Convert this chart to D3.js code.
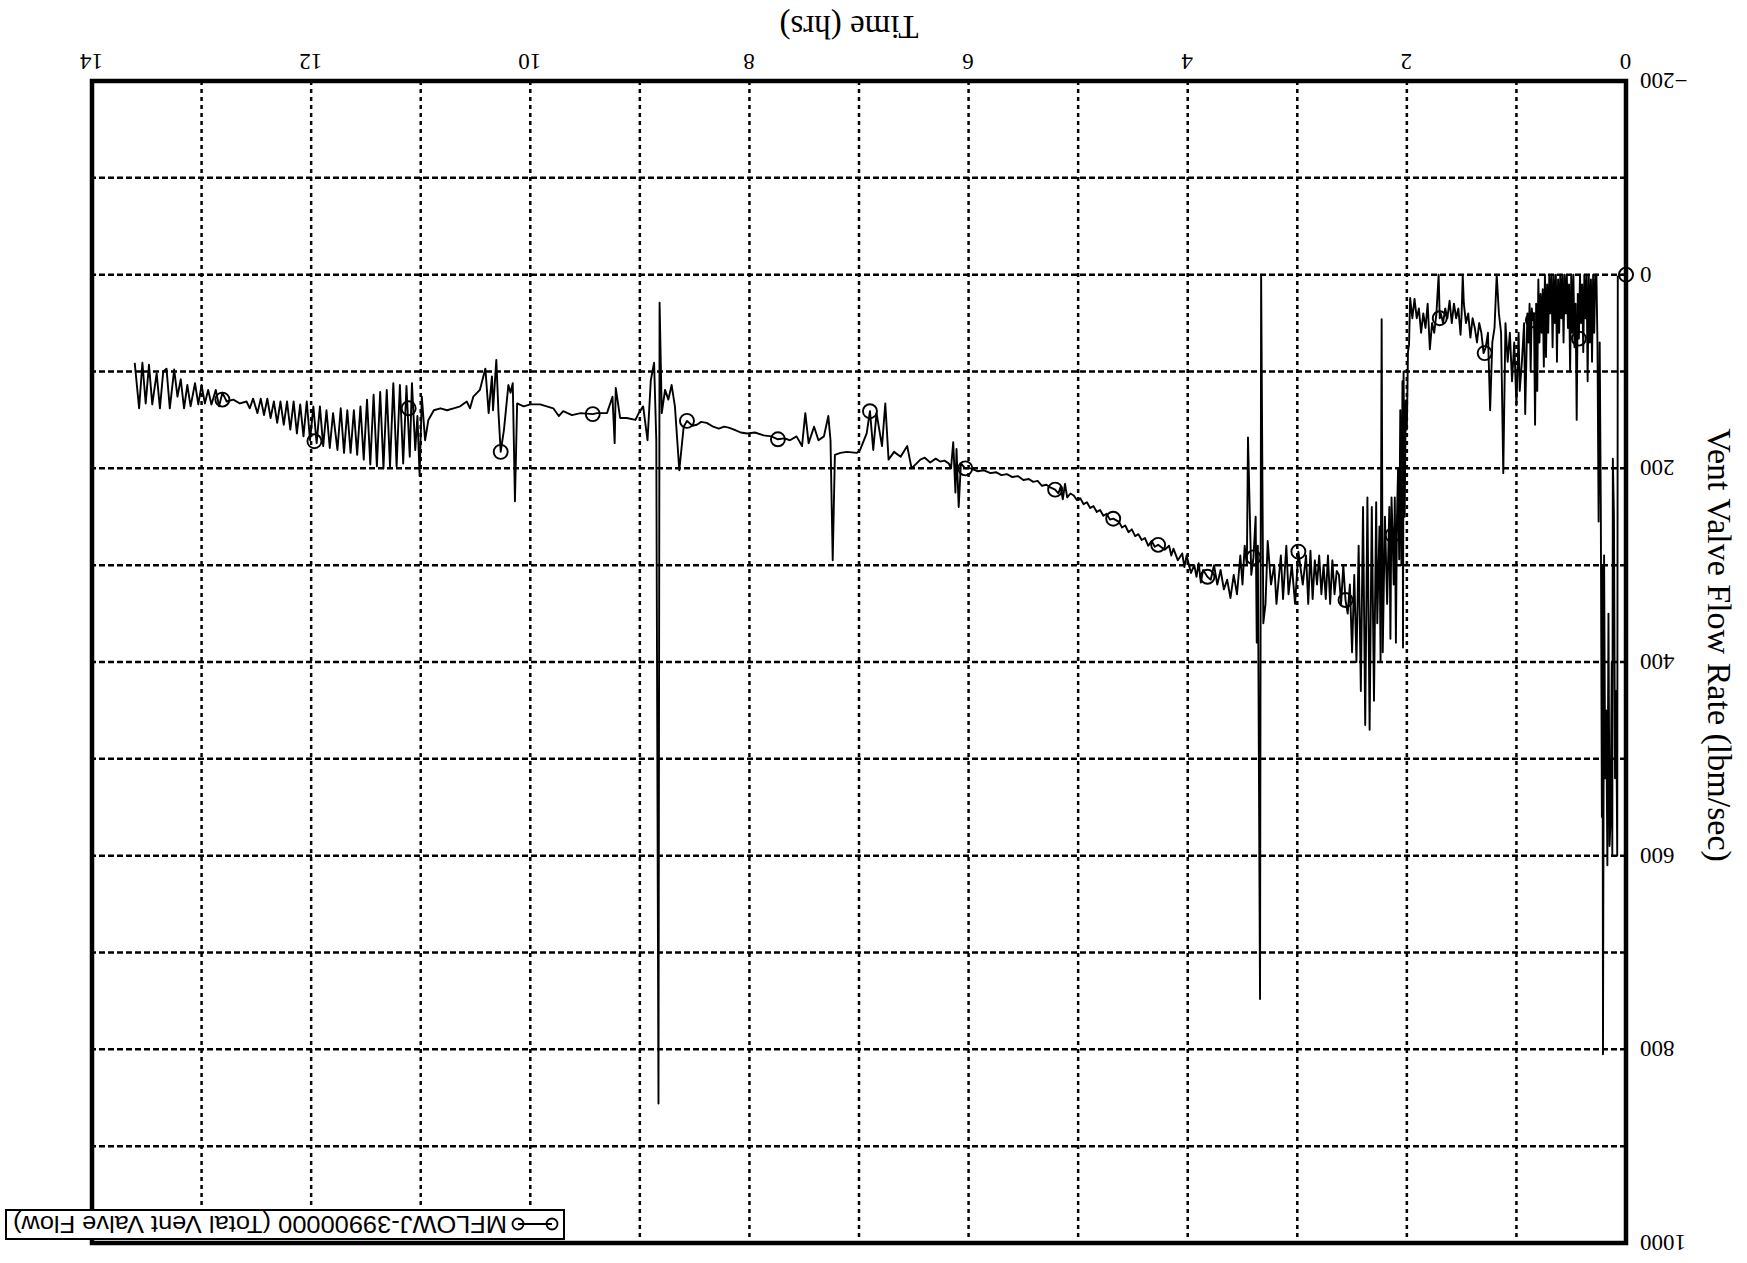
<!DOCTYPE html>
<html><head><meta charset="utf-8">
<script src="https://cdn.jsdelivr.net/npm/d3@7"></script>
<style>
html,body{margin:0;padding:0;background:#fff;}
svg{display:block;}
</style></head><body>
<svg id="chart" width="1747" height="1263"></svg>
<script>
// ---- data (hours, lbm/sec) ----
const timeHrs = [
 0.00,0.04,0.075,0.08,0.09,0.10,0.11,0.12,0.125,0.13,
 0.14,0.15,0.16,0.17,0.18,0.19,0.20,0.21,0.215,0.22,
 0.23,0.24,0.25,0.26,0.27,
 0.28,0.29,0.30,0.31,0.32,0.33,0.34,0.35,0.36,0.37,
 0.38,0.39,0.40,0.41,0.42,0.43,0.44,0.45,0.46,0.47,
 0.48,0.49,0.50,0.51,0.52,0.53,0.54,0.55,0.56,0.57,
 0.58,0.59,0.60,0.61,0.62,0.63,0.64,0.65,0.66,0.67,
 0.68,0.69,0.70,0.71,0.72,0.73,0.74,0.75,0.76,0.77,
 0.78,0.79,0.80,0.81,0.82,0.83,0.84,0.85,0.86,0.87,
 0.88,0.89,0.90,
 0.92,0.93,0.95,0.97,0.98,1.00,1.02,1.04,1.06,1.08,
 1.10,1.12,1.14,1.16,1.18,1.20,1.22,1.24,1.26,1.28,
 1.30,1.32,1.34,1.36,1.38,1.40,1.42,1.44,1.46,1.48,
 1.49,1.50,1.51,1.53,1.55,1.57,1.59,1.61,1.63,1.65,
 1.67,1.69,1.70,1.71,1.73,1.75,1.77,1.79,1.81,1.83,
 1.85,1.87,1.89,1.91,1.93,1.95,1.97,
 1.98,1.99,2.00,2.01,2.02,2.03,2.035,2.04,2.05,2.06,
 2.07,2.08,2.09,2.10,2.11,2.12,2.13,2.14,2.15,2.16,
 2.18,2.20,2.22,2.23,2.24,2.25,2.27,2.28,2.30,2.32,
 2.34,2.36,2.38,2.40,2.42,2.44,2.46,2.48,2.50,2.52,
 2.54,2.56,2.58,2.60,2.62,2.64,2.66,2.68,2.70,2.72,
 2.74,2.76,2.78,2.80,2.82,2.84,2.86,2.88,2.90,2.92,
 2.95,2.99,3.02,3.05,3.08,3.10,3.13,3.15,3.19,3.21,
 3.24,3.27,3.29,3.31,3.33,3.34,3.36,3.37,3.38,3.40,
 3.42,3.45,3.46,3.48,3.50,3.52,3.55,3.58,3.61,3.64,
 3.67,3.70,3.73,3.76,3.79,3.82,3.86,3.88,3.90,3.92,
 3.94,3.97,4.01,4.03,4.05,4.09,4.13,4.15,4.17,4.21,
 4.27,4.30,4.33,4.36,4.39,4.42,4.45,4.48,4.51,4.54,
 4.57,4.60,4.63,4.68,4.71,4.74,4.77,4.80,4.83,4.86,
 4.89,4.92,4.95,4.98,5.01,5.04,5.07,5.10,5.12,5.14,
 5.16,5.18,5.21,5.25,5.29,5.33,5.37,5.41,5.45,5.50,
 5.55,5.60,5.65,5.70,5.75,5.80,5.86,5.92,5.98,6.03,
 6.07,6.09,6.11,6.12,6.14,6.16,6.18,6.22,6.26,6.30,
 6.35,6.40,
 6.44,6.52,6.56,6.62,6.68,6.73,6.76,6.79,6.84,6.87,
 6.90,6.93,6.99,7.02,7.11,7.17,7.22,7.24,7.26,7.28,
 7.32,7.37,7.41,7.46,7.49,7.52,7.57,7.63,7.68,7.74,
 7.80,7.87,7.95,8.02,8.08,8.14,8.19,8.23,8.28,8.33,
 8.39,8.44,8.48,8.52,8.57,8.60,8.64,8.68,8.71,8.74,
 8.77,8.80,8.82,8.83,8.85,8.87,8.90,8.93,8.97,9.01,
 9.04,9.12,9.18,9.22,9.23,9.25,9.30,9.39,9.43,9.54,
 9.62,9.70,9.74,9.79,9.85,9.91,10.00,10.06,10.12,10.14,
 10.16,
 10.18,10.20,10.24,10.27,10.29,10.31,10.34,10.35,10.38,10.41,
 10.46,10.52,10.55,10.58,10.64,10.70,10.76,10.82,10.88,10.93,
 10.96,10.99,11.01,11.03,11.05,11.08,11.10,11.13,11.16,11.19,
 11.22,11.25,11.28,11.31,11.34,11.37,11.40,11.43,11.46,11.49,
 11.52,11.55,11.58,11.61,11.64,11.67,11.70,11.73,11.76,11.80,
 11.83,11.86,11.89,11.92,11.95,11.98,12.01,12.04,12.07,12.10,
 12.13,12.16,12.19,12.22,12.25,12.28,12.31,12.34,12.37,12.40,
 12.43,12.46,12.49,12.53,12.56,12.59,12.65,12.71,12.77,12.81,
 12.84,12.87,12.91,12.94,12.97,13.00,13.03,13.06,13.10,13.13,
 13.16,13.19,13.22,13.25,13.29,13.32,13.35,13.38,13.41,13.45,
 13.48,13.51,13.54,13.57,13.61
];
const flowRate = [
 0,0,2,600,430,520,250,190,600,400,
 560,590,350,610,450,520,290,805,300,560,
 240,70,255,75,0,
 0,60,0,90,5,70,0,110,0,45,
 0,80,10,50,0,66,20,150,30,75,
 0,60,0,100,10,55,0,40,0,70,
 0,45,0,60,5,90,0,50,0,75,
 0,40,0,60,10,85,0,95,15,60,
 20,70,5,120,30,155,40,47,35,100,
 30,70,40,
 144,50,90,120,60,135,70,110,60,90,
 50,205,60,40,0,55,70,140,60,75,
 81,60,50,70,55,45,65,40,50,30,
 0,40,62,35,45,30,50,27,45,35,
 50,40,45,0,40,60,50,77,30,55,
 40,60,35,45,25,45,24,
 72,80,160,130,250,100,385,110,300,140,
 294,200,250,380,230,320,269,230,376,240,
 340,250,390,46,400,260,360,235,440,240,
 470,230,465,240,430,280,400,310,390,320,
 350,336,300,340,310,306,330,295,340,290,
 335,300,330,290,320,295,335,285,340,290,
 320,286,340,300,330,280,335,290,340,300,
 320,275,340,360,0,748,280,380,250,292,
 310,168,300,280,320,290,330,310,334,315,
 325,305,320,300,315,312,305,318,298,312,
 300,308,290,302,288,295,283,290,280,284,
 279,281,275,280,272,274,268,270,263,266,
 259,261,255,252,253,247,249,243,245,239,
 241,235,237,231,233,228,226,230,216,232,
 219,226,222,220,217,218,213,214,211,212,
 208,209,206,207,204,205,202,203,200,200,
 195,240,180,225,173,200,195,192,193,190,
 194,189,
 191,200,177,188,183,191,133,177,143,181,
 141,164,181,184,183,184,186,295,171,146,
 167,171,157,174,143,177,167,171,169,170,
 167,166,163,164,163,160,158,157,159,157,
 153,152,155,156,151,157,202,136,114,129,
 119,143,29,856,171,91,109,171,136,143,
 150,148,148,117,174,126,143,143,144,143,
 145,141,146,138,136,134,134,136,133,234,
 112,
 122,114,160,183,143,88,140,105,143,97,
 119,126,138,131,136,138,140,138,140,150,
 171,126,208,146,181,112,188,115,195,114,
 198,112,198,119,200,121,198,124,196,129,
 191,136,186,140,184,140,184,138,181,143,
 179,140,177,136,174,136,171,131,167,134,
 164,131,160,131,155,131,153,131,148,128,
 145,128,143,128,138,131,133,129,131,122,
 136,119,134,119,133,114,134,112,136,114,
 138,108,126,98,138,97,100,138,102,134,
 93,133,91,138,91
];
const markerTimes = [0,0.43,0.85,1.29,1.70,2.13,2.56,2.99,3.40,3.82,4.27,4.68,5.21,6.03,6.90,7.74,8.57,9.43,10.27,11.11,11.97,12.81];
const markerFlow  = [0,66,47,81,45,269,336,286,292,312,279,252,222,200,141,170,151,144,183,138,172,129];
const xTicks = [0,2,4,6,8,10,12,14];
const yTicks = [-200,0,200,400,600,800,1000];
const xTitle = "Time (hrs)";
const yTitle = "Vent Valve Flow Rate (lbm/sec)";
const legendLabel = "MFLOWJ-39900000 (Total Vent Valve Flow)";

// ---- drawing ----
const W = 1747, H = 1263;
const svg = d3.select('#chart');
// the reference page is printed upside-down: draw normally, then turn 180°
const g = svg.append('g').attr('transform', `rotate(180 ${W/2} ${H/2})`);

const x = d3.scaleLinear().domain([0, 14]).range([121, 1655]);
const y = d3.scaleLinear().domain([-200, 1000]).range([1182, 20]);
const serif = "'Liberation Serif','Times New Roman',serif";
const sans = "'Liberation Sans',Arial,sans-serif";

// grid
g.append('g').selectAll('line')
  .data(x.ticks(14).filter(d => d > 0 && d < 14)).join('line')
  .attr('x1', d => x(d)).attr('x2', d => x(d))
  .attr('y1', y(-200)).attr('y2', y(1000))
  .attr('stroke', '#000').attr('stroke-width', 2.5).attr('stroke-dasharray', '4,4');
g.append('g').selectAll('line')
  .data(y.ticks(12).filter(d => d > -200 && d < 1000)).join('line')
  .attr('y1', d => y(d)).attr('y2', d => y(d))
  .attr('x1', x(0)).attr('x2', x(14))
  .attr('stroke', '#000').attr('stroke-width', 2.5).attr('stroke-dasharray', '6,3');

// series
const pts = timeHrs.map((t, i) => [t, flowRate[i]]).filter(p => p[1] !== undefined);
g.append('path').datum(pts)
  .attr('d', d3.line().x(d => x(d[0])).y(d => y(d[1])))
  .attr('fill', 'none').attr('stroke', '#000').attr('stroke-width', 1.9)
  .attr('stroke-linejoin', 'round');

g.append('g').selectAll('circle')
  .data(markerTimes.map((t, i) => [t, markerFlow[i]])).join('circle')
  .attr('cx', d => x(d[0])).attr('cy', d => y(d[1])).attr('r', 7)
  .attr('fill', 'none').attr('stroke', '#000').attr('stroke-width', 1.9);

// frame
g.append('rect').attr('x', x(0)).attr('y', y(1000))
  .attr('width', x(14) - x(0)).attr('height', y(-200) - y(1000))
  .attr('fill', 'none').attr('stroke', '#000').attr('stroke-width', 4.5);

// axes labels
const xAxis = g.append('g').attr('transform', `translate(0,${y(-200)})`)
  .call(d3.axisBottom(x).tickValues(xTicks).tickSize(0).tickPadding(11).tickFormat(d3.format('d')));
const yAxis = g.append('g').attr('transform', `translate(${x(0)},0)`)
  .call(d3.axisLeft(y).tickValues(yTicks).tickSize(0).tickPadding(14).tickFormat(d3.format('d')));
[xAxis, yAxis].forEach(a => {
  a.select('.domain').remove();
  a.selectAll('text').attr('font-family', serif).attr('font-size', 23).attr('fill', '#000');
});

// titles
g.append('text').attr('x', 898).attr('y', 1247)
  .attr('text-anchor', 'middle').attr('font-family', serif).attr('font-size', 33)
  .text(xTitle);
g.append('text').attr('transform', 'translate(39,618) rotate(-90)')
  .attr('text-anchor', 'middle').attr('font-family', serif).attr('font-size', 34)
  .text(yTitle);

// legend
const lg = g.append('g');
lg.append('rect').attr('x', 1183).attr('y', 24).attr('width', 558).attr('height', 29)
  .attr('fill', '#fff').attr('stroke', '#000').attr('stroke-width', 2);
lg.append('line').attr('x1', 1195).attr('x2', 1229).attr('y1', 39).attr('y2', 39)
  .attr('stroke', '#000').attr('stroke-width', 1.8);
lg.selectAll('circle.lm').data([1195, 1229]).join('circle').attr('class', 'lm')
  .attr('cx', d => d).attr('cy', 39).attr('r', 5.5)
  .attr('fill', 'none').attr('stroke', '#000').attr('stroke-width', 1.8);
lg.append('text').attr('x', 1240).attr('y', 47)
  .attr('font-family', sans).attr('font-size', 24.5)
  .attr('textLength', 494).attr('lengthAdjust', 'spacingAndGlyphs')
  .text(legendLabel);
</script>
</body></html>
